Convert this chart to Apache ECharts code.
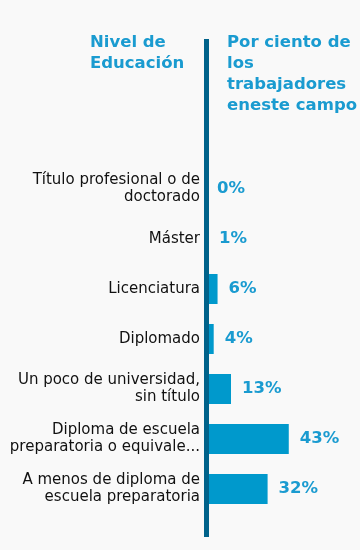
<!DOCTYPE html>
<html>
<head>
<meta charset="utf-8">
<script src="https://cdn.jsdelivr.net/npm/echarts@6/dist/echarts.min.js"></script>
<style>
html,body{margin:0;padding:0;background:#f9f9f9;}
#c{width:360px;height:550px;}
</style>
</head>
<body>
<div id="c"></div>
<script>
var categories = [
  "Título profesional o de\ndoctorado",
  "Máster",
  "Licenciatura",
  "Diplomado",
  "Un poco de universidad,\nsin título",
  "Diploma de escuela\npreparatoria o equivale...",
  "A menos de diploma de\nescuela preparatoria"
];
var values = [0, 1, 6, 4, 13, 43, 32];
var headerLeft = "Nivel de\nEducación";
var headerRight = "Por ciento de\nlos\ntrabajadores\neneste campo";

var FF = "'DejaVu Sans', Verdana, sans-serif";
var chart = echarts.init(document.getElementById('c'), null, {renderer: 'canvas'});
chart.setOption({
  backgroundColor: '#f9f9f9',
  animation: false,
  textStyle: {fontFamily: FF},
  title: [
    {text: headerLeft, left: 85, top: 27,
     textStyle: {fontFamily: FF, fontSize: 16.5, fontWeight: 'bold', color: '#1a9bd0', lineHeight: 21}},
    {text: headerRight, left: 222, top: 27,
     textStyle: {fontFamily: FF, fontSize: 16.5, fontWeight: 'bold', color: '#1a9bd0', lineHeight: 21}}
  ],
  grid: {left: 206, top: 164, width: 156, height: 350, containLabel: false},
  xAxis: {
    type: 'value', min: 0, max: 80, show: false
  },
  yAxis: {
    type: 'category', data: categories, inverse: true,
    axisLine: {show: false}, axisTick: {show: false},
    axisLabel: {margin: 6, fontFamily: FF, fontSize: 15, color: '#111', lineHeight: 17, align: 'right'}
  },
  series: [{
    type: 'bar', data: values, barWidth: 30,
    itemStyle: {color: '#0099cc'},
    label: {show: true, position: 'right', distance: 11, formatter: '{c}%',
      fontFamily: FF, fontSize: 16.5, fontWeight: 'bold', color: '#1a9bd0'}
  }],
  graphic: [{
    type: 'rect', shape: {x: 204, y: 39, width: 5, height: 498},
    style: {fill: '#00628a'}, z: 100
  }]
});
</script>
</body>
</html>
